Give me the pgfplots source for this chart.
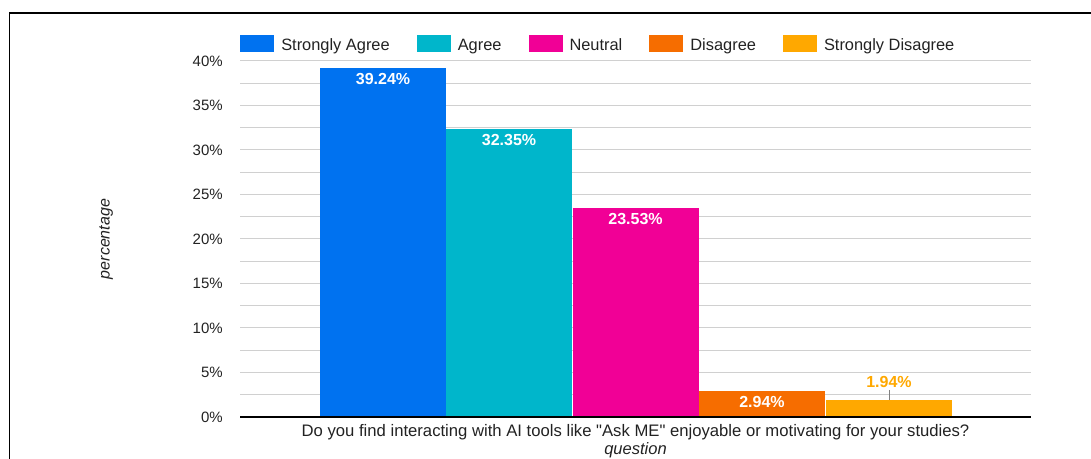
\documentclass[border=0pt]{standalone}
\usepackage{fontspec}
\setmainfont{Liberation Sans}
\newfontfamily\plainfont{Liberation Sans}
\usepackage{pgfplots}
\pgfplotsset{compat=1.18}
\definecolor{cSA}{HTML}{0072F0}
\definecolor{cA}{HTML}{00B6CB}
\definecolor{cN}{HTML}{F10096}
\definecolor{cD}{HTML}{F66D00}
\definecolor{cSD}{HTML}{FFA800}
\definecolor{gridgray}{HTML}{D0D0D0}
\definecolor{txt}{HTML}{222222}
\begin{document}
\begin{tikzpicture}
\useasboundingbox (0,0) rectangle (818.25pt,344.25pt);
\draw[line width=1pt, color=black] (7.125pt,0pt) -- (7.125pt,334.5pt) -- (818.25pt,334.5pt);
\begin{axis}[
  at={(180pt,31.5pt)}, anchor=south west,
  width=593.25pt, height=267pt, scale only axis,
  xmin=240, xmax=1031, ymin=0, ymax=40,
  ybar, bar width=126,
  axis line style={draw=none},
  tick style={draw=none},
  clip=false,
  ytick={0,5,...,40},
  minor ytick={2.5,7.5,...,37.5},
  ymajorgrids, yminorgrids,
  major grid style={color=gridgray, line width=0.75pt},
  minor grid style={color=gridgray, line width=0.75pt},
  /pgf/number format/assume math mode=true,
  yticklabel={\pgfmathprintnumber{\tick}\%},
  yticklabel style={anchor=east, inner sep=0pt, xshift=-12.75pt, text=txt, font=\fontsize{11.25}{13}\selectfont},
  xtick={635.5},
  xticklabels={Do you find interacting with AI tools like "Ask ME" enjoyable or motivating for your studies?},
  xticklabel style={anchor=base, inner sep=0pt, yshift=-10pt, text=txt, font=\plainfont\fontsize{12.5}{14}\selectfont},
  xlabel={question},
  xlabel style={at={(axis description cs:0.5,0)}, anchor=base, inner sep=0pt, yshift=-28.25pt, text=txt, font=\itshape\fontsize{12.4}{14}\selectfont},
  ylabel={percentage},
  ylabel style={at={(axis description cs:0,0.5)}, anchor=center, inner sep=0pt, yshift=100.5pt, text=txt, font=\itshape\fontsize{12}{14}\selectfont},
  legend columns=-1,
  legend style={draw=none, fill=none, at={(0,1)}, anchor=west, yshift=12.9pt, inner sep=0pt,
    nodes={inner sep=0pt, text=txt, font=\fontsize{12.3}{14}\selectfont},
    /tikz/every even column/.append style={column sep=20.25pt},
    /tikz/every odd column/.append style={column sep=5.25pt}},
  legend image code/.code={\fill[#1] (0pt,-4.6pt) rectangle (25.5pt,8.15pt);},
  nodes near coords={\pgfmathprintnumber[fixed,fixed zerofill,precision=2]{\pgfplotspointmeta}\%},
  every node near coord/.append style={anchor=center, yshift=-8.25pt, text=white, font=\bfseries\fontsize{12}{14}\selectfont},
]
\addplot[fill=cSA, draw=none, bar shift=0pt] coordinates {(383,39.24)};
\addlegendentry{Strongly Agree}
\addplot[fill=cA, draw=none, bar shift=0pt] coordinates {(509,32.35)};
\addlegendentry{Agree}
\addplot[fill=cN, draw=none, bar shift=0pt] coordinates {(635.5,23.53)};
\addlegendentry{Neutral}
\addplot[fill=cD, draw=none, bar shift=0pt] coordinates {(762,2.94)};
\addlegendentry{Disagree}
\addplot[fill=cSD, draw=none, bar shift=0pt, every node near coord/.append style={yshift=21.75pt, text=cSD}] coordinates {(889,1.94)};
\addlegendentry{Strongly Disagree}
\draw[color=gray, line width=0.75pt] (axis cs:889,1.94) -- ++(0pt,7.5pt);
\draw[color=black, line width=1pt] (rel axis cs:0,0) -- (rel axis cs:1,0);
\end{axis}
\end{tikzpicture}
\end{document}
